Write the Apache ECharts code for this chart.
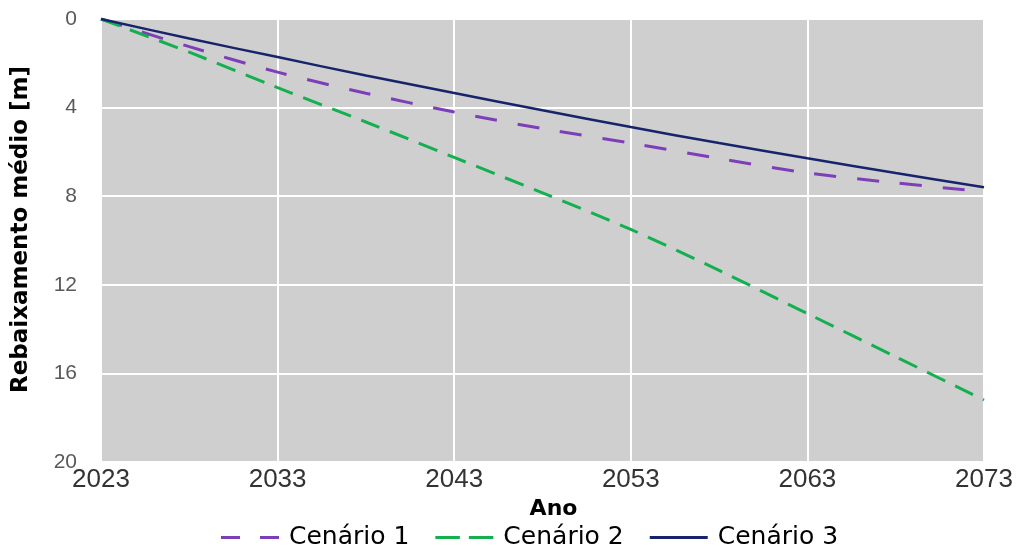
<!DOCTYPE html>
<html><head><meta charset="utf-8">
<script src="https://cdn.jsdelivr.net/npm/echarts@6/dist/echarts.min.js"></script>
<style>html,body{margin:0;padding:0;background:#fff}#c{width:1019px;height:550px}</style>
</head><body><div id="c"></div>
<script>
const years = ['2023','2028','2033','2038','2043','2048','2053','2058','2063','2068','2073'];
const cenario1 = [0, 1.25, 2.4, 3.35, 4.2, 4.95, 5.6, 6.3, 6.95, 7.4, 7.8];
const cenario2 = [0, 1.5, 3.1, 4.65, 6.25, 7.85, 9.5, 11.35, 13.3, 15.25, 17.2];
const cenario3 = [0, 0.88, 1.72, 2.55, 3.34, 4.12, 4.88, 5.6, 6.29, 6.95, 7.6];
const yTicks = [0, 4, 8, 12, 16, 20];

const chart = echarts.init(document.getElementById('c'));
chart.setOption({
  animation: false,
  grid: {left: 101, right: 35, top: 19, bottom: 88, show: true, backgroundColor: '#d0cfd0', borderWidth: 0,
         containLabel: false, outerBoundsMode: 'none'},
  xAxis: {
    type: 'category', data: years, boundaryGap: false,
    name: 'Ano', nameLocation: 'middle', nameGap: 34,
    nameTextStyle: {fontFamily: 'DejaVu Sans', fontWeight: 'bold', fontSize: 22, color: '#000', padding: [0, 0, 0, 22]},
    axisLine: {show: false}, axisTick: {show: false},
    axisLabel: {interval: 1, color: '#333', fontSize: 26, fontFamily: 'Liberation Sans', margin: 5},
    splitLine: {show: true, interval: 1, lineStyle: {color: '#ffffff', width: 2}}
  },
  yAxis: {
    type: 'value', inverse: true, min: 0, max: 20, interval: 4,
    name: 'Rebaixamento médio [m]', nameLocation: 'middle', nameGap: 68, nameRotate: 90,
    nameTextStyle: {fontFamily: 'DejaVu Sans', fontWeight: 'bold', fontSize: 23, color: '#000', padding: [0, 0, 0, 22]},
    axisLine: {show: false}, axisTick: {show: false},
    axisLabel: {color: '#595959', fontSize: 21, fontFamily: 'Liberation Sans', margin: 24,
      formatter: v => yTicks.includes(v) ? String(v) : ''},
    splitLine: {show: true, lineStyle: {color: '#ffffff', width: 2}}
  },
  legend: {
    top: 520, left: 216, itemWidth: 58, itemHeight: 3, itemGap: 26,
    textStyle: {fontFamily: 'DejaVu Sans', fontSize: 25, color: '#000', padding: [0, 0, 0, 5]},
    data: [
      {name: 'Cenário 1', icon: 'path://M0,0h19v3h-19zM39,0h19v3h-19z'},
      {name: 'Cenário 2', icon: 'path://M0,0h24.5v3h-24.5zM33.5,0h24.5v3h-24.5z'},
      {name: 'Cenário 3', icon: 'path://M0,0h58v3h-58z'}
    ]
  },
  series: [
    {name: 'Cenário 1', type: 'line', data: cenario1, symbol: 'none', smooth: 0.3,
     lineStyle: {color: '#7d3fb8', width: 3, type: [22, 21]}, itemStyle: {color: '#7d3fb8'}},
    {name: 'Cenário 2', type: 'line', data: cenario2, symbol: 'none', smooth: 0.3,
     lineStyle: {color: '#14b050', width: 3, type: [20, 11]}, itemStyle: {color: '#14b050'}},
    {name: 'Cenário 3', type: 'line', data: cenario3, symbol: 'none', smooth: 0.3,
     lineStyle: {color: '#17246b', width: 2.5, type: 'solid'}, itemStyle: {color: '#17246b'}}
  ]
});
</script></body></html>
